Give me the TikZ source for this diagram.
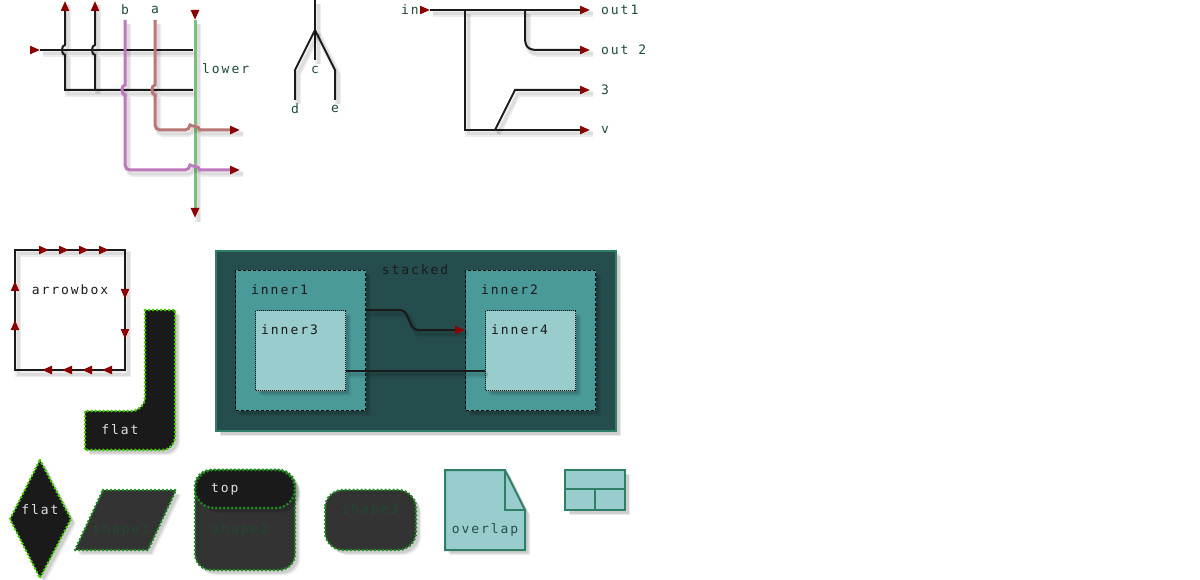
\documentclass[tikz,border=0pt]{standalone}
\usepackage{fontspec}
\newfontfamily\dmono[LetterSpace=15]{DejaVu Sans Mono}
\usetikzlibrary{arrows.meta,shadows,calc}
\definecolor{ared}{HTML}{8B0000}
\definecolor{lblg}{HTML}{1E4B3C}
\definecolor{lpurple}{HTML}{BE78BE}
\definecolor{lrose}{HTML}{BA7676}
\definecolor{lgreen}{HTML}{7DBE7D}
\definecolor{dteal}{HTML}{264D4D}
\definecolor{mteal}{HTML}{4A9A9A}
\definecolor{lteal}{HTML}{99CCCC}
\definecolor{bgreen}{HTML}{2F7F66}
\definecolor{brightg}{HTML}{44CC00}
\definecolor{darkg}{HTML}{1E8B1E}
\definecolor{shtxt}{HTML}{1F4A2F}
\definecolor{ink}{HTML}{1A1A1A}
\definecolor{dgray}{HTML}{333333}
\begin{document}
\begin{tikzpicture}[x=1pt,y=-1pt,>={Triangle[length=10pt,width=8pt,color=ared]},
  lsh/.style={preaction={draw=black,draw opacity=0.07,line width=6pt,arrows=-,transform canvas={shift={(3pt,-4pt)}}},
              preaction={draw=black,draw opacity=0.07,line width=3pt,arrows=-,transform canvas={shift={(3pt,-4pt)}}}},
  ln/.style={draw=ink,line width=2pt,lsh},
  cl/.style={line width=3pt,lsh},
  tiponly/.style={draw=ink,line width=2pt,->},
  lbl/.style={font=\dmono\fontsize{13}{15}\selectfont,text=lblg,inner sep=0pt},
  btxt/.style={lbl,text=ink},
  wtxt/.style={lbl,text=white!88!black},
  gtxt/.style={lbl,text=shtxt},
  nsh/.style={drop shadow={shadow xshift=5pt,shadow yshift=-5pt,opacity=0.08,fill=black},
              drop shadow={shadow xshift=3.5pt,shadow yshift=-3.5pt,opacity=0.12,fill=black}},
  flatsty/.style={fill=ink,draw=brightg,line width=3pt,line cap=round,dash pattern=on 0pt off 4pt,nsh},
  dimsty/.style={fill=dgray,draw=darkg,line width=3pt,line cap=round,dash pattern=on 0pt off 4pt,nsh},
  tealbox/.style={draw=bgreen,line width=2pt,fill=lteal,nsh},
  outerbox/.style={draw=bgreen,line width=2pt,fill=dteal,nsh,anchor=north west,inner sep=0pt},
  midbox/.style={draw=black,line width=1pt,dash pattern=on 3pt off 2pt,fill=mteal,nsh,anchor=north west,inner sep=0pt},
  innbox/.style={draw=black,line width=1pt,dash pattern=on 1pt off 1pt,fill=lteal,nsh,anchor=north west,inner sep=0pt}
]
\fill[white] (0,0) rectangle (1200,580);
\useasboundingbox (0,0) rectangle (1200,580);

% ---------------- top-left crossings ----------------
\coordinate (g0) at (195,10); \coordinate (g1) at (195,20); \coordinate (g2) at (195,218);
\coordinate (h0) at (30,50); \coordinate (h1) at (40,50); \coordinate (h2) at (193,50);
\coordinate (k0) at (193,90); \coordinate (k1) at (65,90); \coordinate (k2) at (95,90);
\coordinate (u1) at (65,1); \coordinate (u2) at (95,1);
\draw[tiponly] (h0) -- (h1);
\draw[ln] (h1) -- (h2);
\draw[ln,->] (k0) -- (k1) -- (65,55) .. controls (61,55) and (61,45) .. (65,45) -- (u1);
\draw[ln,->] (k2) -- (95,55) .. controls (91,55) and (91,45) .. (95,45) -- (u2);
\draw[cl,draw=lgreen,->] (g1) -- (g2);
\draw[draw=lgreen,line width=3pt,->] (g0) -- (g1);
\coordinate (pb) at (125,20); \coordinate (pe) at (240,170);
\coordinate (ra) at (155,20); \coordinate (re) at (240,130);
\draw[cl,draw=lrose,->] (ra) -- (155,85) .. controls (151,85) and (151,95) .. (155,95) [rounded corners=5pt] -- (155,130) -- (190,130) [sharp corners] .. controls (190,126) and (200,126) .. (200,130) -- (re);
\draw[cl,draw=lpurple,->] (pb) -- (125,85) .. controls (121,85) and (121,95) .. (125,95) [rounded corners=5pt] -- (125,170) -- (190,170) [sharp corners] .. controls (190,166) and (200,166) .. (200,170) -- (pe);
\node[lbl] (lb) at (125,10) {b};
\node[lbl] (la) at (155,10) {a};
\node[lbl,anchor=west] (llower) at (202,69) {lower};

% ---------------- fork c d e ----------------
\coordinate (ct) at (315,0); \coordinate (cj) at (315,30); \coordinate (cc) at (315,60);
\coordinate (cd) at (295,100); \coordinate (ce) at (335,100);
\draw[ln] (ct) -- (cj) -- (cc);
\draw[ln] (cj) -- (295,70) -- (cd);
\draw[ln] (cj) -- (335,70) -- (ce);
\node[lbl] (lc) at (315,70) {c};
\node[lbl] (ld) at (295,109) {d};
\node[lbl] (le) at (335,109) {e};

% ---------------- in / outs ----------------
\node[lbl,anchor=west] (lin) at (401,10) {in};
\coordinate (i0) at (420,10); \coordinate (i1) at (430,10);
\coordinate (o1) at (590,10); \coordinate (o2) at (590,50); \coordinate (o3) at (590,90); \coordinate (o4) at (590,130);
\draw[tiponly] (i0) -- (i1);
\draw[ln,->] (i1) -- (o1);
\draw[ln,->] (465,10) -- (465,130) -- (o4);
\draw[ln,->] (525,10) -- (525,37) .. controls (525,47) and (528,50) .. (538,50) -- (o2);
\draw[ln,->] (495,130) -- (515,90) -- (o3);
\node[lbl,anchor=west] (lo1) at (601,10) {out1};
\node[lbl,anchor=west] (lo2) at (601,50) {out 2};
\node[lbl,anchor=west] (lo3) at (601,90) {3};
\node[lbl,anchor=west] (lo4) at (601,130) {v};

% ---------------- arrowbox ----------------
\coordinate (ab1) at (15,250); \coordinate (ab3) at (125,370);
\draw[ln] (ab1) rectangle (ab3);
\foreach \t in {49,69,89,109} \draw[tiponly] (\t-10,250) -- (\t,250);
\foreach \t in {299,339} \draw[tiponly] (125,\t-10) -- (125,\t);
\foreach \t in {42,62,82,102} \draw[tiponly] (\t+10,370) -- (\t,370);
\foreach \t in {281,320} \draw[tiponly] (15,\t+10) -- (15,\t);
\node[btxt] (larrowbox) at (70,290) {arrowbox};

% ---------------- flat L ----------------
\draw[flatsty] (145,310) -- (175,310) -- (175,436) .. controls (175,444) and (170,450) .. (162,450) -- (85,450) -- (85,411) -- (131,411) .. controls (139,411) and (145,405) .. (145,397) -- cycle;
\node[wtxt] (lflat1) at (120,430) {flat};

% ---------------- stacked ----------------
\node[outerbox,minimum width=400pt,minimum height=180pt] (stacked) at (215,250) {};
\node[btxt] (lstacked) at (415,270) {stacked};
\node[midbox,minimum width=130pt,minimum height=140pt] (inner1) at (235,270) {};
\node[btxt,anchor=west] (linner1) at (251,290) {inner1};
\node[innbox,minimum width=90pt,minimum height=80pt] (inner3) at (255,310) {};
\node[btxt,anchor=west] (linner3) at (261,330) {inner3};
\node[midbox,minimum width=130pt,minimum height=140pt] (inner2) at (465,270) {};
\node[btxt,anchor=west] (linner2) at (481,290) {inner2};
\node[innbox,minimum width=90pt,minimum height=80pt] (inner4) at (485,310) {};
\node[btxt,anchor=west] (linner4) at (491,330) {inner4};
\coordinate (c1s) at ($(inner1.north east)+(0,40)$);
\coordinate (c1e) at ($(inner2.north west)+(0,60)$);
\coordinate (c2s) at ($(inner3.east)+(0,20)$);
\coordinate (c2e) at ($(inner4.west)+(0,20)$);
\draw[ln,->] (c1s) -- (400,310) .. controls (410,310) and (408,330) .. (418,330) -- (c1e);
\draw[ln] (c2s) -- (c2e);

% ---------------- bottom shapes ----------------
\draw[flatsty] (40,460) -- (71,519) -- (40,578) -- (10,519) -- cycle;
\node[wtxt] (lflat2) at (40,510) {flat};
\draw[dimsty] (103,490) -- (176,490) -- (148,550) -- (75,550) -- cycle;
\node[gtxt] (lshape1) at (121,530) {shape1};
\draw[dimsty,rounded corners=16pt] (195,470) rectangle (295,570);
\draw[flatsty,draw=darkg,rounded corners=19pt] (195,470) rectangle (295,508);
\node[wtxt,anchor=west] (ltop) at (211,489) {top};
\node[gtxt] (lshape2) at (240,530) {shape2};
\draw[dimsty,rounded corners=18pt] (325,490) rectangle (416,550);
\node[gtxt] (lshape3) at (370,510) {shape3};
\draw[tealbox] (445,470) -- (505,470) -- (525,510) -- (525,550) -- (445,550) -- cycle;
\draw[draw=bgreen,line width=2pt] (505,470) -- (505,510) -- (525,510);
\node[lbl,text=dteal] (loverlap) at (485,530) {overlap};
\draw[tealbox] (565,470) rectangle (625,510);
\draw[draw=bgreen,line width=2pt] (565,489) -- (625,489) (595,489) -- (595,510);
\end{tikzpicture}
\end{document}
